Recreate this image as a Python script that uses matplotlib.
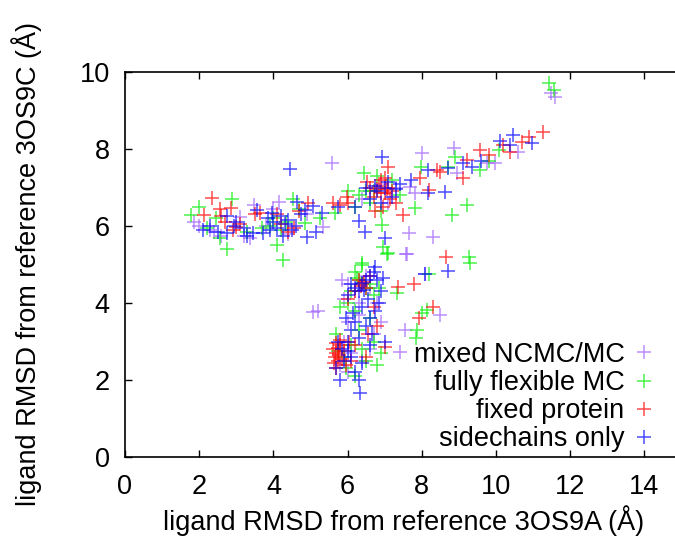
import matplotlib
matplotlib.use("Agg")
import matplotlib.pyplot as plt

# (x, y) RMSD pairs, one list per run type
mixed_x = [5.58, 1.86, 3.10, 2.29, 3.37, 3.48, 4.15, 5.34, 2.60, 2.00, 3.80, 4.40, 4.90, 2.40, 3.20, 4.00,
           8.87, 9.76, 9.97, 8.95, 10.59, 7.68, 7.82, 6.60, 6.90, 7.10, 6.40, 7.30, 8.00, 11.48, 11.60,
           7.65, 8.30, 7.60, 7.57, 5.20, 5.07, 7.41, 8.09, 8.50, 7.55,
           6.20, 6.00, 6.50, 5.90, 6.30, 6.60, 6.00, 6.30, 6.70, 5.90, 6.10, 6.40, 5.80, 6.60, 6.00, 6.80, 5.85, 6.90]
mixed_y = [7.64, 6.10, 6.24, 5.90, 5.69, 6.55, 6.62, 5.97, 5.75, 6.00, 6.00, 5.80, 6.30, 5.85, 5.75, 6.45,
           8.03, 7.64, 7.64, 7.38, 7.92, 7.01, 6.86, 6.90, 7.10, 6.60, 6.70, 7.00, 7.90, 9.45, 9.35,
           5.82, 5.71, 5.27, 5.27, 3.79, 3.77, 2.73, 4.75, 3.70, 3.30,
           4.30, 4.50, 4.70, 4.10, 4.00, 4.40, 3.50, 3.70, 3.20, 3.00, 2.70, 2.50, 2.40, 2.80, 2.20, 4.00, 4.60, 3.50]

flex_x = [2.88, 1.99, 1.78, 2.45, 2.56, 2.75, 4.53, 5.26, 4.85, 6.44, 5.66, 4.10, 4.26, 6.39, 3.90, 4.20, 4.00,
          3.70, 4.35, 3.30, 2.20, 4.70,
          6.60, 6.70, 6.30, 6.90, 7.20, 6.50, 7.40, 6.80, 6.20, 6.00, 6.93, 6.95, 7.09, 7.82, 7.06,
          10.08, 9.57, 8.71, 7.98, 9.22, 8.81, 11.43, 11.56, 9.80, 8.90,
          9.27, 9.30, 8.19, 7.33, 8.14, 8.00, 7.87, 7.84, 6.30, 6.50, 6.20, 6.60, 6.10, 6.70, 6.40, 6.00,
          6.79, 6.90, 6.70, 6.30, 5.80, 5.90, 6.10, 6.40, 6.60, 6.20, 5.95, 6.50, 6.20,
          5.70, 6.85, 6.25, 5.75]
flex_y = [6.70, 6.49, 6.29, 6.21, 5.69, 5.40, 6.70, 6.21, 6.08, 7.38, 6.34, 5.50, 5.12, 5.04, 6.00, 5.90, 6.20,
          5.95, 6.10, 5.85, 5.95, 6.45,
          6.60, 6.90, 6.80, 6.40, 7.20, 6.90, 6.80, 7.30, 6.50, 6.90, 6.03, 5.45, 5.30, 6.47, 5.27,
          7.97, 7.45, 7.53, 7.53, 6.55, 6.29, 9.71, 9.53, 7.70, 7.80,
          5.19, 5.04, 4.75, 4.26, 3.82, 3.74, 3.30, 3.09, 4.60, 4.40, 4.80, 4.50, 4.30, 4.20, 5.00, 4.00,
          2.39, 2.70, 3.00, 3.30, 3.90, 2.60, 2.90, 2.80, 3.60, 3.80, 2.30, 2.50, 2.10,
          3.20, 4.40, 4.65, 2.75]

fixed_x = [2.35, 2.56, 2.86, 2.13, 3.00, 3.64, 4.93, 5.60, 5.98, 2.70, 2.90, 4.20, 4.40, 4.55, 3.50, 2.60, 4.10,
           4.70, 3.10, 5.80, 6.00,
           6.52, 7.09, 6.80, 6.90, 7.00, 7.10, 6.70, 7.20, 6.85, 7.00, 6.60, 7.30, 7.49, 6.95, 7.15, 6.75,
           7.05, 6.90,
           11.27, 10.70, 10.38, 9.57, 9.22, 9.11, 8.41, 8.50, 7.95, 8.19, 10.90, 10.20, 9.80,
           8.65, 7.36, 7.79, 8.30, 7.92, 7.00, 6.40, 6.30, 6.50, 6.20, 6.60, 6.35, 6.45, 6.00, 6.70,
           5.74, 5.70, 5.80, 5.65, 5.75, 5.90, 5.85, 5.60, 5.80, 5.95, 6.10, 5.70, 6.20, 6.50, 6.55, 6.80, 6.05,
           5.68, 5.78, 5.62]
fixed_y = [6.73, 6.44, 6.47, 6.29, 5.97, 6.34, 6.60, 6.60, 6.75, 6.10, 5.90, 6.05, 5.85, 5.95, 6.30, 6.25, 6.30,
           6.40, 6.05, 6.55, 6.60,
           7.14, 7.53, 6.95, 7.20, 6.85, 7.00, 6.75, 6.90, 7.05, 7.25, 7.00, 6.60, 6.29, 6.50, 6.70, 6.40,
           6.95, 6.85,
           8.44, 8.18, 7.92, 7.97, 7.71, 7.25, 7.45, 7.40, 7.25, 6.94, 8.30, 8.10, 7.85,
           5.19, 4.42, 4.49, 3.90, 3.61, 2.86, 4.50, 4.60, 4.40, 4.30, 4.70, 4.45, 4.55, 4.10, 3.90,
           2.83, 2.70, 2.90, 2.60, 2.50, 2.75, 2.55, 2.80, 3.05, 2.40, 2.50, 2.30, 2.90, 2.60, 3.20, 3.40, 3.00,
           2.95, 2.65, 2.45]

side_x = [2.75, 2.94, 2.50, 2.75, 3.45, 3.72, 3.56, 3.85, 4.64, 5.07, 4.85, 4.90, 5.74, 6.30, 6.47, 4.45, 3.20,
          2.30, 4.00, 4.10, 4.30, 4.20, 3.95, 4.50, 4.40, 3.00, 3.30, 2.10, 4.75, 5.30, 4.60, 3.90, 4.25, 5.15,
          6.93, 7.00, 6.80, 7.20, 7.10, 6.60, 6.75, 7.30, 6.90, 7.40, 6.20, 6.50, 7.00, 6.74,
          8.17, 8.63, 8.17, 9.11, 9.35, 10.38, 10.46, 10.97, 8.70, 7.70, 10.10, 9.60,
          8.71, 8.09, 6.39, 6.20, 6.50, 6.60, 6.30, 6.10, 6.70, 6.45, 6.00, 6.80, 6.55, 6.40, 6.60, 6.75,
          6.50, 6.85, 6.20, 6.30, 6.00, 5.85, 5.90, 5.70, 6.10, 6.20, 6.30, 6.33, 5.80, 6.00, 6.40, 6.10,
          5.75, 6.60, 6.65, 7.00, 6.90, 5.95, 6.95, 6.15]
side_y = [6.26, 6.00, 5.84, 5.82, 5.82, 5.82, 6.42, 6.21, 6.62, 6.52, 6.42, 5.71, 6.49, 6.13, 5.84, 7.48, 5.95,
          6.00, 6.10, 5.95, 6.05, 6.25, 6.35, 5.90, 6.15, 6.10, 5.75, 5.90, 6.30, 6.35, 6.00, 5.90, 5.75, 5.85,
          7.79, 7.00, 6.90, 6.75, 7.15, 6.70, 7.05, 6.95, 6.60, 7.10, 6.50, 7.00, 5.69, 4.94,
          6.86, 6.88, 7.45, 7.64, 7.53, 8.10, 8.36, 8.16, 7.50, 7.20, 8.20, 7.70,
          4.83, 4.75, 4.52, 4.40, 4.60, 4.70, 4.30, 4.50, 4.80, 4.35, 4.20, 4.60, 4.10, 3.90, 3.60, 3.80,
          3.40, 4.00, 3.50, 3.10, 3.00, 2.80, 2.50, 2.30, 2.60, 2.20, 2.00, 1.66, 2.00, 2.75, 2.45, 3.30,
          3.00, 2.90, 3.20, 3.00, 4.30, 3.60, 4.65, 3.75]

plt.rcParams["font.family"] = ["Liberation Sans", "DejaVu Sans"]
fontsize = 19.5

fig = plt.figure(figsize=(6.75, 5.41), dpi=100)
# axes run to x = 15, which falls just past the right edge of the picture
ax = fig.add_axes([125 / 675, 84 / 541, 556.5 / 675, 385 / 541])

series = [
    (mixed_x, mixed_y, "#a060ff", "mixed NCMC/MC"),
    (flex_x, flex_y, "#00ee00", "fully flexible MC"),
    (fixed_x, fixed_y, "#ff0000", "fixed protein"),
    (side_x, side_y, "#0000ff", "sidechains only"),
]
for xs, ys, color, label in series:
    ax.plot(xs, ys, linestyle="none", marker="+", markersize=10, markeredgewidth=1.1,
            color=color, alpha=0.7, label=label)

ax.set_xlim(0, 15)
ax.set_ylim(0, 10)
ax.set_xticks(range(0, 15, 2))
ax.set_yticks(range(0, 11, 2))

for side in ax.spines.values():
    side.set_linewidth(1.2)

ax.tick_params(direction="in", length=5, width=1, labelsize=fontsize, top=True, right=True)
ax.tick_params(axis="x", pad=12)
ax.tick_params(axis="y", pad=11)

ax.set_xlabel("ligand RMSD from reference 3OS9A (Å)", fontsize=fontsize, labelpad=4)
ax.set_ylabel("ligand RMSD from reference 3OS9C (Å)", fontsize=fontsize, labelpad=27)

ax.legend(loc="lower right", bbox_to_anchor=(0.978, -0.023), frameon=False, markerfirst=False,
          fontsize=fontsize, handlelength=0.9, handletextpad=0.25, labelspacing=0.08, borderpad=0)

fig.savefig("out.png", dpi=100)
